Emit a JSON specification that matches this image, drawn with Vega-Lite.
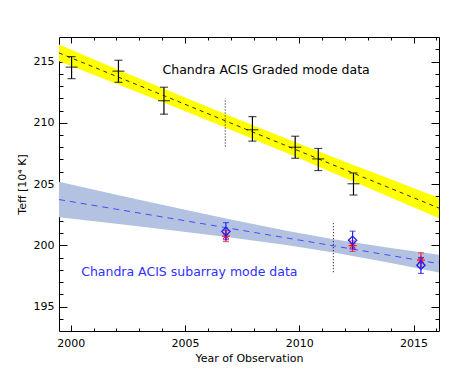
{
  "$schema": "https://vega.github.io/schema/vega-lite/v6.json",
  "width": 380,
  "height": 294,
  "autosize": "none",
  "padding": {"left": 59, "top": 37, "right": 35, "bottom": 48},
  "background": "white",
  "config": {
    "view": {"stroke": "black", "strokeWidth": 1},
    "axis": {
      "labelFont": "DejaVu Sans",
      "labelFontSize": 11,
      "labelColor": "black",
      "titleFont": "DejaVu Sans",
      "titleFontSize": 11,
      "titleFontWeight": "normal",
      "titleColor": "black",
      "tickColor": "black",
      "tickWidth": 1,
      "domain": false,
      "grid": false
    }
  },
  "datasets": {
    "bandY": [
      {"x": 1999.49, "lo": 215.02, "hi": 216.38, "c": 215.70},
      {"x": 2002.0, "lo": 213.19, "hi": 214.39, "c": 213.79},
      {"x": 2004.5, "lo": 211.33, "hi": 212.45, "c": 211.89},
      {"x": 2007.0, "lo": 209.43, "hi": 210.53, "c": 209.98},
      {"x": 2009.5, "lo": 207.48, "hi": 208.66, "c": 208.07},
      {"x": 2012.0, "lo": 205.50, "hi": 206.82, "c": 206.16},
      {"x": 2014.0, "lo": 203.90, "hi": 205.38, "c": 204.64},
      {"x": 2016.11, "lo": 202.20, "hi": 203.86, "c": 203.03}
    ],
    "bandB": [
      {"x": 1999.49, "lo": 202.28, "hi": 205.18, "c": 203.73},
      {"x": 2002.0, "lo": 201.75, "hi": 204.13, "c": 202.94},
      {"x": 2004.5, "lo": 201.21, "hi": 203.11, "c": 202.16},
      {"x": 2007.0, "lo": 200.63, "hi": 202.11, "c": 201.37},
      {"x": 2009.5, "lo": 200.00, "hi": 201.16, "c": 200.58},
      {"x": 2011.5, "lo": 199.41, "hi": 200.49, "c": 199.95},
      {"x": 2014.0, "lo": 198.55, "hi": 199.77, "c": 199.16},
      {"x": 2016.11, "lo": 197.78, "hi": 199.22, "c": 198.50}
    ],
    "graded": [
      {"x": 2000.04, "y": 214.54, "lo": 213.6, "hi": 215.4},
      {"x": 2002.09, "y": 214.21, "lo": 213.3, "hi": 215.1},
      {"x": 2004.08, "y": 211.8, "lo": 210.7, "hi": 212.9},
      {"x": 2007.95, "y": 209.43, "lo": 208.5, "hi": 210.5},
      {"x": 2009.82, "y": 208.0, "lo": 207.1, "hi": 208.9},
      {"x": 2010.83, "y": 207.05, "lo": 206.1, "hi": 207.9},
      {"x": 2012.37, "y": 205.02, "lo": 204.1, "hi": 205.9}
    ],
    "subBlue": [
      {"x": 2006.79, "y": 201.13, "lo": 200.45, "hi": 201.85},
      {"x": 2012.33, "y": 200.41, "lo": 199.7, "hi": 201.15},
      {"x": 2015.32, "y": 198.37, "lo": 197.7, "hi": 199.0}
    ],
    "subRed": [
      {"x": 2006.79, "y": 200.75, "lo": 200.3, "hi": 201.2},
      {"x": 2012.33, "y": 199.97, "lo": 199.5, "hi": 200.35},
      {"x": 2015.32, "y": 198.78, "lo": 198.2, "hi": 199.38}
    ],
    "dotted": [
      {"x": 2006.76, "lo": 208.06, "hi": 212.0},
      {"x": 2011.49, "lo": 197.8, "hi": 201.8}
    ],
    "labels": [
      {"x": 2008.55, "y": 214.3, "t": "Chandra ACIS Graded mode data", "g": "graded"},
      {"x": 2005.19, "y": 197.8, "t": "Chandra ACIS subarray mode data", "g": "sub"}
    ]
  },
  "resolve": {"axis": {"x": "independent", "y": "independent"}},
  "layer": [
    {
      "data": {"name": "bandY"},
      "mark": {"type": "area", "color": "#ffff00", "opacity": 1},
      "encoding": {
        "x": {"field": "x", "type": "quantitative", "scale": {"domain": [1999.49, 2016.11], "nice": false, "zero": false},
          "axis": {"orient": "bottom", "ticks": false, "values": [2000, 2005, 2010, 2015], "format": "d", "labelPadding": 6, "title": "Year of Observation", "titlePadding": 4}},
        "y": {"field": "lo", "type": "quantitative", "scale": {"domain": [193, 217], "nice": false, "zero": false},
          "axis": {"orient": "left", "ticks": false, "values": [195, 200, 205, 210, 215], "labelPadding": 5, "title": "Teff [10⁴ K]", "titlePadding": 6}},
        "y2": {"field": "hi"}
      }
    },
    {
      "data": {"name": "bandB"},
      "mark": {"type": "area", "color": "#b3c2e1", "opacity": 1},
      "encoding": {
        "x": {"field": "x", "type": "quantitative", "scale": {"domain": [1999.49, 2016.11], "nice": false, "zero": false},
          "axis": {"orient": "bottom", "labels": false, "values": [2000, 2005, 2010, 2015], "tickSize": -6, "title": null}},
        "y": {"field": "lo", "type": "quantitative", "scale": {"domain": [193, 217], "nice": false, "zero": false},
          "axis": {"orient": "left", "labels": false, "values": [195, 200, 205, 210, 215], "tickSize": -8, "title": null}},
        "y2": {"field": "hi"}
      }
    },
    {
      "data": {"name": "bandY"},
      "mark": {"type": "line", "color": "black", "strokeWidth": 0.8, "strokeDash": [4, 4]},
      "encoding": {
        "x": {"field": "x", "type": "quantitative", "scale": {"domain": [1999.49, 2016.11], "nice": false, "zero": false},
          "axis": {"orient": "bottom", "labels": false, "values": [2000, 2001, 2002, 2003, 2004, 2005, 2006, 2007, 2008, 2009, 2010, 2011, 2012, 2013, 2014, 2015, 2016], "tickSize": -3, "title": null}},
        "y": {"field": "c", "type": "quantitative", "scale": {"domain": [193, 217], "nice": false, "zero": false},
          "axis": {"orient": "left", "labels": false, "values": [194, 195, 196, 197, 198, 199, 200, 201, 202, 203, 204, 205, 206, 207, 208, 209, 210, 211, 212, 213, 214, 215, 216], "tickSize": -4, "title": null}}
      }
    },
    {
      "data": {"name": "bandB"},
      "mark": {"type": "line", "color": "#4a4aff", "strokeWidth": 1, "strokeDash": [6, 5]},
      "encoding": {
        "x": {"field": "x", "type": "quantitative", "scale": {"domain": [1999.49, 2016.11], "nice": false, "zero": false},
          "axis": {"orient": "top", "labels": false, "values": [2000, 2005, 2010, 2015], "tickSize": -6, "title": null}},
        "y": {"field": "c", "type": "quantitative", "scale": {"domain": [193, 217], "nice": false, "zero": false},
          "axis": {"orient": "right", "labels": false, "values": [195, 200, 205, 210, 215], "tickSize": -8, "title": null}}
      }
    },
    {
      "data": {"name": "dotted"},
      "mark": {"type": "rule", "color": "black", "strokeWidth": 1, "strokeDash": [1, 2]},
      "encoding": {
        "x": {"field": "x", "type": "quantitative", "scale": {"domain": [1999.49, 2016.11], "nice": false, "zero": false},
          "axis": {"orient": "top", "labels": false, "values": [2000, 2001, 2002, 2003, 2004, 2005, 2006, 2007, 2008, 2009, 2010, 2011, 2012, 2013, 2014, 2015, 2016], "tickSize": -3, "title": null}},
        "y": {"field": "lo", "type": "quantitative", "scale": {"domain": [193, 217], "nice": false, "zero": false},
          "axis": {"orient": "right", "labels": false, "values": [194, 195, 196, 197, 198, 199, 200, 201, 202, 203, 204, 205, 206, 207, 208, 209, 210, 211, 212, 213, 214, 215, 216], "tickSize": -4, "title": null}},
        "y2": {"field": "hi"}
      }
    },
    {
      "data": {"name": "graded"},
      "mark": {"type": "rule", "color": "black", "strokeWidth": 1.2},
      "encoding": {
        "x": {"field": "x", "type": "quantitative", "axis": null},
        "y": {"field": "lo", "type": "quantitative", "axis": null},
        "y2": {"field": "hi"}
      }
    },
    {
      "data": {"name": "graded"},
      "layer": [
        {"mark": {"type": "tick", "orient": "horizontal", "size": 8, "thickness": 1.2, "color": "black"},
         "encoding": {"x": {"field": "x", "type": "quantitative", "axis": null}, "y": {"field": "lo", "type": "quantitative", "axis": null}}},
        {"mark": {"type": "tick", "orient": "horizontal", "size": 8, "thickness": 1.2, "color": "black"},
         "encoding": {"x": {"field": "x", "type": "quantitative", "axis": null}, "y": {"field": "hi", "type": "quantitative", "axis": null}}},
        {"mark": {"type": "tick", "orient": "horizontal", "size": 12, "thickness": 1.2, "color": "black"},
         "encoding": {"x": {"field": "x", "type": "quantitative", "axis": null}, "y": {"field": "y", "type": "quantitative", "axis": null}}}
      ]
    },
    {
      "data": {"name": "subRed"},
      "layer": [
        {"mark": {"type": "rule", "color": "#ff2020", "strokeWidth": 1.2},
         "encoding": {"x": {"field": "x", "type": "quantitative", "axis": null}, "y": {"field": "lo", "type": "quantitative", "axis": null}, "y2": {"field": "hi"}}},
        {"mark": {"type": "tick", "orient": "horizontal", "size": 6, "thickness": 1.2, "color": "#ff2020"},
         "encoding": {"x": {"field": "x", "type": "quantitative", "axis": null}, "y": {"field": "lo", "type": "quantitative", "axis": null}}},
        {"mark": {"type": "tick", "orient": "horizontal", "size": 6, "thickness": 1.2, "color": "#ff2020"},
         "encoding": {"x": {"field": "x", "type": "quantitative", "axis": null}, "y": {"field": "hi", "type": "quantitative", "axis": null}}},
        {"mark": {"type": "point", "shape": "M-1,0L1,0M0,-1L0,1M-0.7,-0.7L0.7,0.7M-0.7,0.7L0.7,-0.7", "size": 64, "filled": false, "stroke": "#ff2020", "strokeWidth": 1.2, "opacity": 1},
         "encoding": {"x": {"field": "x", "type": "quantitative", "axis": null}, "y": {"field": "y", "type": "quantitative", "axis": null}}}
      ]
    },
    {
      "data": {"name": "subBlue"},
      "layer": [
        {"mark": {"type": "rule", "color": "#2020ff", "strokeWidth": 1.2},
         "encoding": {"x": {"field": "x", "type": "quantitative", "axis": null}, "y": {"field": "lo", "type": "quantitative", "axis": null}, "y2": {"field": "hi"}}},
        {"mark": {"type": "tick", "orient": "horizontal", "size": 6, "thickness": 1.2, "color": "#2020ff"},
         "encoding": {"x": {"field": "x", "type": "quantitative", "axis": null}, "y": {"field": "lo", "type": "quantitative", "axis": null}}},
        {"mark": {"type": "tick", "orient": "horizontal", "size": 6, "thickness": 1.2, "color": "#2020ff"},
         "encoding": {"x": {"field": "x", "type": "quantitative", "axis": null}, "y": {"field": "hi", "type": "quantitative", "axis": null}}},
        {"mark": {"type": "point", "shape": "diamond", "size": 70, "filled": false, "stroke": "#2020ff", "strokeWidth": 1.3, "opacity": 1},
         "encoding": {"x": {"field": "x", "type": "quantitative", "axis": null}, "y": {"field": "y", "type": "quantitative", "axis": null}}}
      ]
    },
    {
      "data": {"name": "labels"},
      "mark": {"type": "text", "font": "DejaVu Sans", "fontSize": 12.5, "align": "center", "baseline": "middle"},
      "encoding": {
        "x": {"field": "x", "type": "quantitative", "axis": null},
        "y": {"field": "y", "type": "quantitative", "axis": null},
        "text": {"field": "t"},
        "color": {"field": "g", "type": "nominal", "scale": {"domain": ["graded", "sub"], "range": ["black", "#3030ff"]}, "legend": null}
      }
    }
  ]
}
